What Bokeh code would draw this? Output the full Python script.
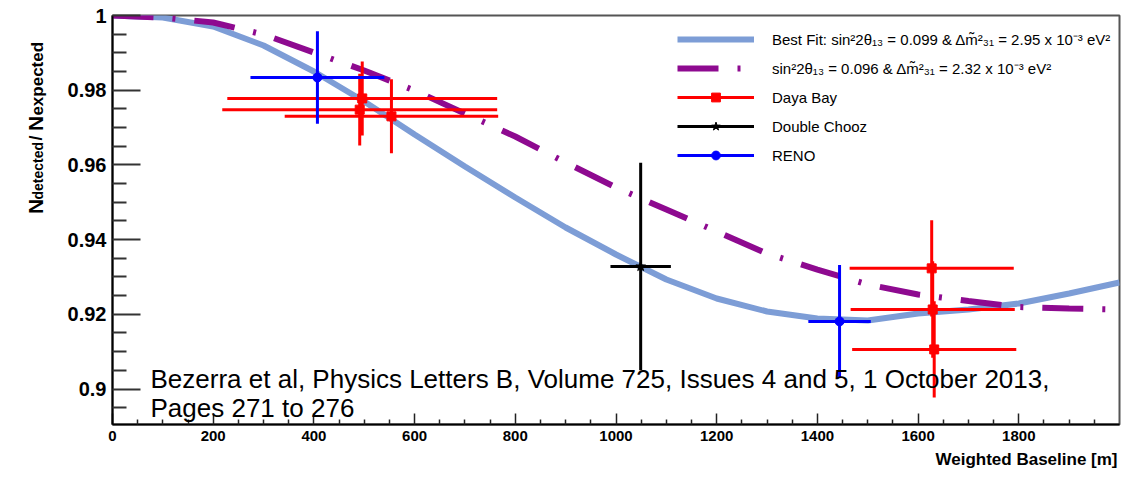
from bokeh.plotting import figure
from bokeh.layouts import row
from bokeh.models import (Range1d, FixedTicker, CustomJSTickFormatter, Label,
                          Legend, LegendItem, ColumnDataSource, Title)
from bokeh.core.properties import value
from bokeh.embed import file_html
from bokeh.resources import INLINE
import math

# ---------------- data ----------------
curve_baseline = [0, 100, 200, 300, 400, 500, 600, 700, 800, 900, 1000,
                  1100, 1200, 1300, 1400, 1500, 1600, 1700, 1800, 1900, 2000]
best_fit = [1.0, 0.99946, 0.99705, 0.99197, 0.98501, 0.97697, 0.96814,
            0.95957, 0.95127, 0.94324, 0.93601, 0.92932, 0.92423, 0.92075,
            0.91888, 0.91834, 0.92021, 0.92129, 0.92289, 0.92557, 0.92851]
alt_fit = [1.0, 0.99946, 0.99813, 0.99491, 0.99009, 0.98527, 0.97992,
           0.97376, 0.96760, 0.96064, 0.95395, 0.94806, 0.94217, 0.93628,
           0.93199, 0.92798, 0.92530, 0.92356, 0.92195, 0.92155, 0.92129]

dayabay_x = [496, 491, 554, 1627, 1629, 1632]
dayabay_xerr = [268, 273, 212, 163, 163, 163]
dayabay_y = [0.9778, 0.9748, 0.9730, 0.9323, 0.9213, 0.9106]
dayabay_yerr = [0.0099, 0.0096, 0.0099, 0.0129, 0.0129, 0.0129]

dchooz_x = [1049]
dchooz_xerr = [60]
dchooz_y = [0.9328]
dchooz_yerr = [0.0278]

reno_x = [407, 1444]
reno_xerr = [133, 62]
reno_y = [0.9834, 0.9181]
reno_yerr = [0.0124, 0.0151]

x_major_ticks = [0, 200, 400, 600, 800, 1000, 1200, 1400, 1600, 1800]
x_minor_ticks = [50, 100, 150, 250, 300, 350, 450, 500, 550, 650, 700, 750,
                 850, 900, 950, 1050, 1100, 1150, 1250, 1300, 1350, 1450,
                 1500, 1550, 1650, 1700, 1750, 1850, 1900, 1950]
y_major_ticks = [0.9, 0.92, 0.94, 0.96, 0.98, 1.0]
y_minor_ticks = [0.895, 0.905, 0.91, 0.915, 0.925, 0.93, 0.935, 0.945, 0.95,
                 0.955, 0.965, 0.97, 0.975, 0.985, 0.99, 0.995]

legend_labels = [
    "Best Fit: sin\u00b22\u03b8\u2081\u2083 = 0.099 & \u0394m\u0303\u00b2\u2083\u2081 = 2.95 x 10\u207b\u00b3 eV\u00b2",
    "sin\u00b22\u03b8\u2081\u2083 = 0.096 & \u0394m\u0303\u00b2\u2083\u2081 = 2.32 x 10\u207b\u00b3 eV\u00b2",
    "Daya Bay",
    "Double Chooz",
    "RENO",
]
citation = ["Bezerra et al, Physics Letters B, Volume 725, Issues 4 and 5, 1 October 2013,",
            "Pages 271 to 276"]
x_title = "Weighted Baseline [m]"
y_title_parts = ["N", "detected", "/", "N", "expected"]

SANS = "Liberation Sans"
TITLE_W = 58
H = 478

# ---------------- main figure ----------------
p = figure(width=1133 - TITLE_W, height=H, output_backend="svg", toolbar_location=None,
           title=None,
           x_range=Range1d(0, 2000), y_range=Range1d(0.8905, 1.0),
           min_border_left=112 - TITLE_W, min_border_right=14, min_border_top=15,
           min_border_bottom=54)
p.background_fill_color = "white"
p.border_fill_color = "white"
p.outline_line_color = "#555555"
p.outline_line_width = 2
p.xgrid.visible = False
p.ygrid.visible = False

xa = p.xaxis[0]
xa.ticker = FixedTicker(ticks=x_major_ticks, minor_ticks=x_minor_ticks)
xa.axis_line_color = "black"
xa.axis_line_width = 2
xa.major_tick_in = 11
xa.major_tick_out = 0
xa.minor_tick_in = 5
xa.minor_tick_out = 0
xa.major_tick_line_color = "#222222"
xa.minor_tick_line_color = "#222222"
xa.major_tick_line_width = 1.5
xa.minor_tick_line_width = 1.5
xa.major_label_text_font = SANS
xa.major_label_text_font_style = "bold"
xa.major_label_text_font_size = "15px"
xa.major_label_text_color = "black"
xa.major_label_standoff = 6

ya = p.yaxis[0]
ya.ticker = FixedTicker(ticks=y_major_ticks, minor_ticks=y_minor_ticks)
ya.formatter = CustomJSTickFormatter(code="return String(Math.round(tick*100)/100);")
ya.axis_line_color = "black"
ya.axis_line_width = 2
ya.major_tick_in = 28
ya.major_tick_out = 0
ya.minor_tick_in = 14
ya.minor_tick_out = 0
ya.major_tick_line_color = "#333333"
ya.minor_tick_line_color = "#333333"
ya.major_tick_line_width = 2
ya.minor_tick_line_width = 2
ya.major_label_text_font = SANS
ya.major_label_text_font_style = "bold"
ya.major_label_text_font_size = "20px"
ya.major_label_text_color = "black"
ya.major_label_standoff = 6

# x axis title, right aligned below the axis
p.add_layout(Title(text=x_title, align="right", text_font=SANS,
                   text_font_style="bold", text_font_size="17px",
                   text_color="black", standoff=9, offset=2), "below")

# ---------------- curves ----------------
r_best = p.line(curve_baseline, best_fit, line_color="#7d9dd6", line_width=6)
r_alt = p.line(curve_baseline, alt_fit, line_color="#8e0a90", line_width=6,
               line_dash="41 19 3 19")


def error_bars(xs, xerr, ys, yerr, color):
    src = ColumnDataSource(dict(
        x=xs, y=ys,
        xl=[a - b for a, b in zip(xs, xerr)], xh=[a + b for a, b in zip(xs, xerr)],
        yl=[a - b for a, b in zip(ys, yerr)], yh=[a + b for a, b in zip(ys, yerr)]))
    h = p.segment(x0="xl", x1="xh", y0="y", y1="y", source=src,
                  line_color=color, line_width=3)
    v = p.segment(x0="x", x1="x", y0="yl", y1="yh", source=src,
                  line_color=color, line_width=3)
    return src, h, v


db_src, db_h, db_v = error_bars(dayabay_x, dayabay_xerr, dayabay_y, dayabay_yerr, "#ff0000")
dc_src, dc_h, dc_v = error_bars(dchooz_x, dchooz_xerr, dchooz_y, dchooz_yerr, "black")
re_src, re_h, re_v = error_bars(reno_x, reno_xerr, reno_y, reno_yerr, "#0000ff")

db_m = p.scatter("x", "y", source=db_src, marker="square", size=9,
                 fill_color="#ff0000", line_color="#ff0000")
dc_m = p.scatter("x", "y", source=dc_src, marker="star", size=10,
                 fill_color="black", line_color="black")
re_m = p.scatter("x", "y", source=re_src, marker="circle", size=9,
                 fill_color="#0000ff", line_color="#0000ff")

# ---------------- legend ----------------
legend = Legend(items=[
    LegendItem(label=legend_labels[0], renderers=[r_best]),
    LegendItem(label=legend_labels[1], renderers=[r_alt]),
    LegendItem(label=legend_labels[2], renderers=[db_h, db_m]),
    LegendItem(label=legend_labels[3], renderers=[dc_h, dc_m]),
    LegendItem(label=legend_labels[4], renderers=[re_h, re_m]),
], location=(565, 258))
legend.glyph_width = 77
legend.glyph_height = 22
legend.label_height = 22
legend.spacing = 7
legend.padding = 0
legend.margin = 0
legend.label_standoff = 18
legend.label_text_font = SANS
legend.label_text_font_size = "15px"
legend.label_text_color = "black"
legend.border_line_alpha = 0
legend.background_fill_alpha = 0
p.add_layout(legend, "center")

# citation text inside the frame
p.add_layout(Label(x=38, y=46, x_units="screen", y_units="screen",
                   text=citation[0], text_font=SANS, text_font_size="26px",
                   text_baseline="alphabetic", text_color="black"))
p.add_layout(Label(x=38, y=17, x_units="screen", y_units="screen",
                   text=citation[1], text_font=SANS, text_font_size="26px",
                   text_baseline="alphabetic", text_color="black"))

# ---------------- y-axis title panel (N_detected / N_expected) ----------------
t = figure(width=TITLE_W, height=H, output_backend="svg", toolbar_location=None,
           title=None,
           x_range=Range1d(0, TITLE_W), y_range=Range1d(0, H),
           x_axis_location=None, y_axis_location=None,
           min_border=0, min_border_left=0, min_border_right=0,
           min_border_top=0, min_border_bottom=0)
t.outline_line_color = None
t.xgrid.visible = False
t.ygrid.visible = False
t.background_fill_color = "white"
t.border_fill_color = "white"

# (canvas x of baseline, canvas y of text start, font size, weight)
y_title_pos = [(35, 232, "21px", "bold"), (37, 215, "14px", "bold"),
               (35, 146, "18px", "bold"), (35, 135, "21px", "bold"),
               (37, 117, "17px", "bold")]
for txt, (cx, cy, fs, fw) in zip(y_title_parts, y_title_pos):
    t.text(x=[cx], y=[H - cy], text=[txt], angle=math.pi / 2,
           text_align="left", text_baseline="alphabetic",
           text_font=value(SANS), text_font_style=fw,
           text_font_size=value(fs), text_color="black")

layout = row(t, p, spacing=0)
open("out.html", "w").write(file_html(layout, INLINE))
